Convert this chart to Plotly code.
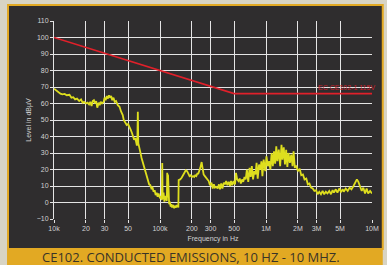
import plotly.graph_objects as go

# ---- data ----
freq_hz = [
    10.0e3, 10.5e3, 11.0e3, 11.5e3, 12.0e3, 12.6e3, 13.2e3, 14.0e3, 14.6e3, 15.2e3,
    15.8e3, 16.5e3, 17.3e3, 18.0e3, 18.6e3, 19.2e3, 20.0e3, 20.7e3, 21.4e3, 22.0e3,
    22.6e3, 23.2e3, 23.8e3, 24.4e3, 25.0e3, 25.6e3, 26.4e3, 27.0e3, 27.6e3, 28.4e3,
    29.4e3, 30.0e3, 30.7e3, 31.5e3, 32.3e3, 33.0e3, 33.8e3, 34.6e3, 35.4e3, 36.4e3,
    37.4e3, 38.5e3, 40.0e3, 41.5e3, 43.0e3, 44.5e3, 45.5e3, 47.0e3, 48.5e3, 50.0e3,
    51.5e3, 53.0e3, 54.5e3, 55.7e3, 57.0e3, 58.5e3, 59.5e3, 60.5e3, 61.2e3, 61.8e3,
    62.4e3, 63.5e3, 65.0e3, 67.0e3, 69.0e3, 71.0e3, 73.0e3, 75.0e3, 77.0e3, 79.0e3,
    81.0e3, 83.0e3, 85.0e3, 87.0e3, 89.0e3, 91.0e3, 93.0e3, 95.0e3, 97.0e3, 100e3,
    102e3, 104e3, 105e3, 106e3, 108e3, 110e3, 112e3, 114e3, 116e3, 117e3,
    118e3, 119e3, 120e3, 122e3, 124e3, 126e3, 128e3, 130e3, 133e3, 136e3,
    139e3, 142e3, 145e3, 149e3, 150e3, 155e3, 160e3, 165e3, 170e3, 175e3,
    180e3, 185e3, 190e3, 195e3, 200e3, 205e3, 210e3, 215e3, 220e3, 225e3,
    230e3, 240e3, 247e3, 252e3, 258e3, 265e3, 272e3, 280e3, 288e3, 296e3,
    306e3, 314e3, 322e3, 330e3, 340e3, 350e3, 360e3, 368e3, 378e3, 388e3,
    400e3, 410e3, 421e3, 432e3, 445e3, 458e3, 468e3, 480e3, 495e3, 510e3,
    521e3, 535e3, 550e3, 565e3, 579e3, 595e3, 610e3, 627e3, 644e3, 660e3,
    680e3, 700e3, 717e3, 735e3, 755e3, 775e3, 797e3, 815e3, 835e3, 860e3,
    887e3, 905e3, 925e3, 950e3, 986e3, 1.01e6, 1.04e6, 1.07e6, 1.10e6, 1.13e6,
    1.16e6, 1.19e6, 1.22e6, 1.25e6, 1.28e6, 1.32e6, 1.36e6, 1.40e6, 1.43e6, 1.47e6,
    1.51e6, 1.55e6, 1.59e6, 1.63e6, 1.68e6, 1.73e6, 1.78e6, 1.82e6, 1.87e6, 1.93e6,
    2.00e6, 2.08e6, 2.15e6, 2.23e6, 2.31e6, 2.40e6, 2.48e6, 2.57e6, 2.66e6, 2.76e6,
    2.86e6, 2.97e6, 3.07e6, 3.18e6, 3.30e6, 3.42e6, 3.54e6, 3.67e6, 3.80e6, 3.95e6,
    4.10e6, 4.25e6, 4.37e6, 4.55e6, 4.72e6, 4.90e6, 5.10e6, 5.30e6, 5.41e6, 5.65e6,
    5.90e6, 6.15e6, 6.40e6, 6.69e6, 6.95e6, 7.20e6, 7.44e6, 7.70e6, 8.00e6, 8.28e6,
    8.60e6, 8.90e6, 9.20e6, 9.60e6, 10.0e6,
]
level_dbuv = [
    69, 68, 66.5, 66, 65.5, 65.8, 65, 65.3, 63.5, 63.8,
    62.5, 63, 61.5, 62.5, 60.5, 61, 60, 60.5, 59.5, 61,
    58.5, 61.5, 62, 60, 61.5, 57.5, 60.5, 59, 61, 60,
    61, 63.5, 62, 64.5, 63, 65, 63.5, 64.5, 62, 63.5,
    61, 61.5, 59, 58, 55, 53, 50, 48.5, 47, 47.5,
    45, 44, 42, 40, 38, 39, 36, 34.5, 40, 55,
    36, 33, 31, 27, 24, 20.5, 19, 15, 13.5, 11,
    10.5, 8.5, 9, 6.5, 7.5, 4.5, 6, 3.5, 5.5, 2.5,
    4, 1.5, 24, 2, 6, 0.5, 4, 2, 1, 18,
    3, 17, 1, -1, 0.5, -2.5, -1, -3, -1.5, -3.5,
    -2, -3, -1.5, -3, 13.6, 14, 15, 17, 18, 19.5,
    19, 17.5, 16, 16.5, 15.5, 16, 15.5, 16.5, 16, 17.5,
    17.5, 21, 24.5, 21, 17, 16, 15, 13.5, 13, 10.5,
    12, 8.5, 11, 9, 9.5, 8.5, 11, 8, 11.5, 8.5,
    12, 11, 13, 10.5, 12.5, 10, 13, 10.5, 13, 11,
    18, 14, 13, 14.5, 11.5, 14, 12.5, 15.5, 14, 20,
    12.5, 21, 15.5, 22, 14, 19, 17, 24, 14.5, 23,
    20, 25, 16, 26, 19, 28, 22, 25, 20, 30,
    22, 31, 23.5, 34, 25, 32, 22, 35, 26, 33.5,
    23, 32, 21.5, 30, 24, 29, 22, 31, 21, 22.5,
    19, 20.5, 16.5, 17, 14, 14.5, 11, 11.5, 9, 8.5,
    7, 7.5, 5, 6.5, 5, 7, 5, 6.5, 5.5, 7,
    5, 7.5, 6, 8, 6, 8.5, 6.5, 8, 6.5, 8.5,
    7, 9, 8, 10, 12, 14, 12.5, 10, 7, 9,
    5.5, 8.5, 5.5, 7, 5.5,
]
limit_freq_hz = [1e4, 5e5, 1e7]
limit_dbuv = [100, 66, 66]
limit_label = "EC CE102-1 115V"

x_tick_vals = [1e4, 2e4, 3e4, 5e4, 1e5, 2e5, 3e5, 5e5, 1e6, 2e6, 3e6, 5e6, 1e7]
x_tick_text = ["10k", "20", "30", "50", "100k", "200", "300", "500", "1M", "2M", "3M", "5M", "10M"]
y_ticks = [-10, 0, 10, 20, 30, 40, 50, 60, 70, 80, 90, 100, 110]

caption = "CE102. CONDUCTED EMISSIONS, 10 HZ - 10 MHZ."

# ---- layout geometry (pixels) ----
W, H = 387, 265
L, R, T, B = 54, 8, 21, 46
PW, PH = W - L - R, H - T - B


def px(xp):
    return (xp - L) / PW


def py(yp):
    return (H - B - yp) / PH


PANEL = "#2f2d2e"
GOLD = "#e2a923"
BEIGE = "#d8d4c4"
TICK = "#d2d2d2"

fig = go.Figure()
fig.add_trace(go.Scatter(
    x=freq_hz, y=level_dbuv, mode="lines",
    line=dict(color="#dede1e", width=1.8), showlegend=False, hoverinfo="skip",
))
fig.add_trace(go.Scatter(
    x=limit_freq_hz, y=limit_dbuv, mode="lines",
    line=dict(color="#e0202a", width=1.6), showlegend=False, hoverinfo="skip",
))

shapes = [
    dict(type="rect", xref="paper", yref="paper",
         x0=px(7), x1=px(390), y0=py(249), y1=py(5),
         fillcolor=PANEL, line=dict(color=GOLD, width=2), layer="below"),
    dict(type="rect", xref="paper", yref="paper",
         x0=px(6), x1=px(390), y0=py(266), y1=py(249),
         fillcolor=GOLD, line=dict(width=0), layer="below"),
]

annotations = [
    dict(text=caption, xref="paper", yref="paper", x=px(194), y=py(257),
         xanchor="center", yanchor="middle", showarrow=False,
         font=dict(family="Open Sans", size=13, color="#3a3428")),
    dict(text=limit_label, xref="paper", yref="y", x=px(384), y=limit_dbuv[-1],
         xanchor="right", yanchor="bottom", showarrow=False, yshift=1,
         font=dict(family="Liberation Sans", size=7, color="#c8202a")),
]

fig.update_layout(
    width=W, height=H,
    margin=dict(l=L, r=R, t=T, b=B),
    paper_bgcolor=BEIGE, plot_bgcolor=PANEL,
    shapes=shapes, annotations=annotations,
    font=dict(family="Liberation Sans", size=7, color=TICK),
    xaxis=dict(
        type="log", range=[4, 7], tickvals=x_tick_vals, ticktext=x_tick_text,
        showgrid=True, gridcolor="#e4e4e4", gridwidth=1,
        ticks="outside", ticklen=3, tickcolor="#e4e4e4",
        showline=False, zeroline=False,
        tickfont=dict(size=7, color=TICK),
        title=dict(text="Frequency in Hz", font=dict(size=7, color=TICK), standoff=4),
    ),
    yaxis=dict(
        range=[-10, 110], tickvals=y_ticks,
        showgrid=True, gridcolor="#e4e4e4", gridwidth=1,
        ticks="outside", ticklen=3, tickcolor="#e4e4e4",
        showline=True, linecolor="#e4e4e4", linewidth=1, zeroline=False,
        tickfont=dict(size=7, color=TICK),
        title=dict(text="Level in dBµV", font=dict(size=7, color=TICK), standoff=4),
    ),
)

fig.write_html(
    "out.html",
    config={"displayModeBar": False, "staticPlot": True},
    post_script="document.body.style.margin='0';document.body.style.overflow='hidden';",
)
